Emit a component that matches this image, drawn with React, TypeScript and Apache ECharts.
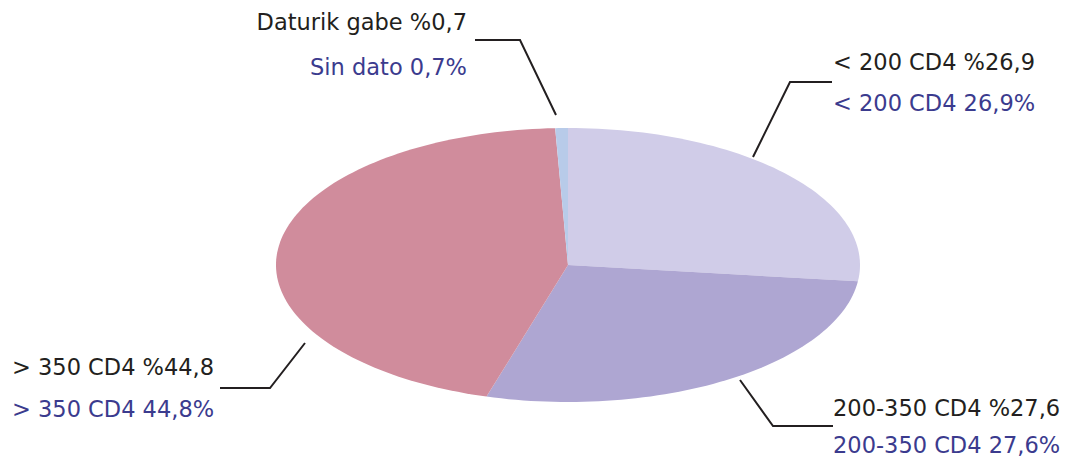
import React, { useEffect, useRef } from "react";
import * as echarts from "echarts";

const categoriesEu = ["< 200 CD4", "200-350 CD4", "> 350 CD4", "Daturik gabe"];
const categoriesEs = ["< 200 CD4", "200-350 CD4", "> 350 CD4", "Sin dato"];
const values = [26.9, 27.6, 44.8, 0.7];
const colors = ["#D0CCE8", "#AEA6D2", "#D08C9C", "#B8CBE9"];

const CX = 568;
const CY = 265;
const RX = 292;
const RY = 137;
const FONT = "22.5px 'DejaVu Sans'";

const fmt = (v: number) => v.toFixed(1).replace(".", ",");

const labelLayout: { x: number; y1: number; y2: number; align: string; leader: number[][] }[] = [
  { x: 833, y1: 62, y2: 103, align: "left", leader: [[832, 82], [790, 82], [753, 157]] },
  { x: 833, y1: 408, y2: 445, align: "left", leader: [[740, 380], [773, 426], [833, 426]] },
  { x: 12, y1: 367, y2: 409, align: "left", leader: [[220, 388], [270, 388], [305, 343]] },
  { x: 467, y1: 22, y2: 67, align: "right", leader: [[475, 40], [520, 40], [556, 115]] },
];

export default function App() {
  const ref = useRef<HTMLDivElement>(null);
  useEffect(() => {
    if (!ref.current) return;
    const chart = echarts.init(ref.current, undefined, { renderer: "svg" });
    const total = values.reduce((a, b) => a + b, 0);
    const starts: number[] = [];
    let acc = 0;
    values.forEach((v) => {
      starts.push(acc);
      acc += v;
    });

    const graphics: any[] = [];
    labelLayout.forEach((l, i) => {
      graphics.push({
        type: "polyline",
        shape: { points: l.leader },
        style: { stroke: "#231F20", lineWidth: 2, fill: null },
        z: 10,
      });
      graphics.push({
        type: "text",
        style: {
          text: `${categoriesEu[i]} %${fmt(values[i])}`,
          x: l.x,
          y: l.y1,
          fill: "#231F20",
          font: FONT,
          textAlign: l.align,
          textVerticalAlign: "middle",
        },
      });
      graphics.push({
        type: "text",
        style: {
          text: `${categoriesEs[i]} ${fmt(values[i])}%`,
          x: l.x,
          y: l.y2,
          fill: "#3B3B8E",
          font: FONT,
          textAlign: l.align,
          textVerticalAlign: "middle",
        },
      });
    });

    chart.setOption({
      animation: false,
      backgroundColor: "#ffffff",
      graphic: graphics,
      series: [
        {
          type: "custom",
          coordinateSystem: "none",
          data: values.map((v, i) => ({ value: v, name: categoriesEu[i] })),
          renderItem: (params: any, api: any) => {
            const i = params.dataIndex;
            const a0 = (starts[i] / total) * Math.PI * 2;
            const a1 = ((starts[i] + api.value(0)) / total) * Math.PI * 2;
            const n = Math.max(4, Math.ceil(((a1 - a0) / (Math.PI * 2)) * 240));
            const pts: number[][] = [[CX, CY]];
            for (let k = 0; k <= n; k++) {
              const a = a0 + ((a1 - a0) * k) / n;
              pts.push([CX + RX * Math.sin(a), CY - RY * Math.cos(a)]);
            }
            return {
              type: "polygon",
              shape: { points: pts },
              style: { fill: colors[i], stroke: null },
            };
          },
        },
      ],
    });
    return () => chart.dispose();
  }, []);
  return (
    <div
      ref={ref}
      style={{ position: "fixed", left: 0, top: 0, width: 1078, height: 460 }}
    />
  );
}
